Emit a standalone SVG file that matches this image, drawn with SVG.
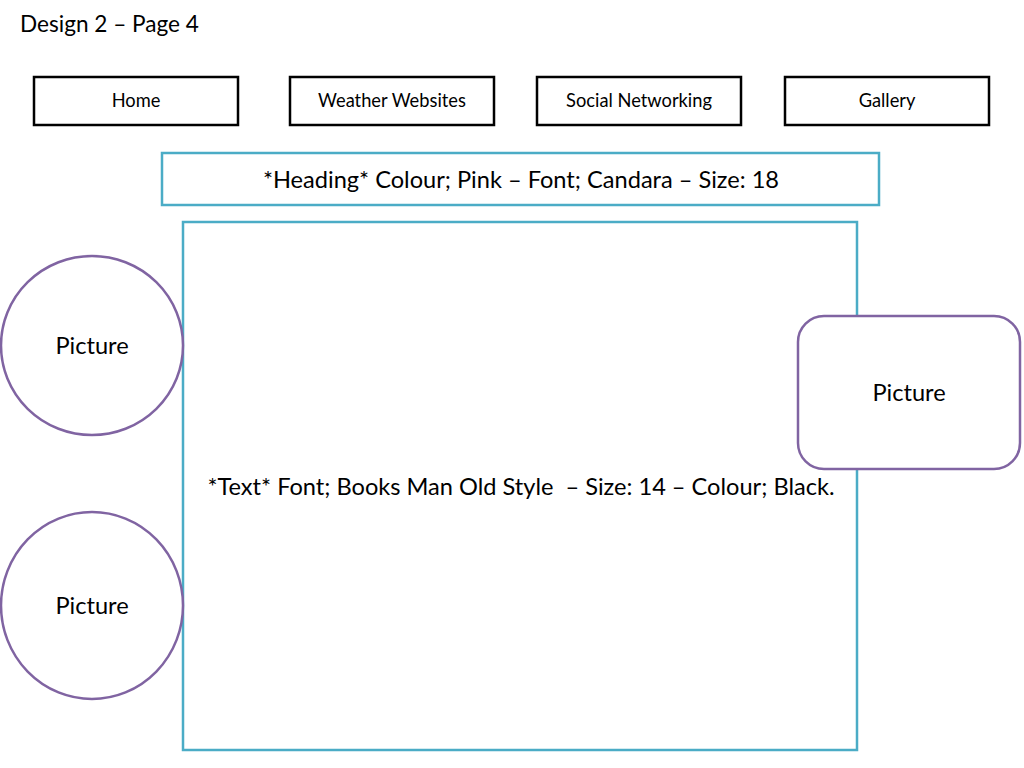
<svg xmlns="http://www.w3.org/2000/svg" width="1024" height="768" viewBox="0 0 1024 768">
<style>
text{font-family:Lato,"Open Sans","Liberation Sans",sans-serif;fill:#000;white-space:pre}
.nav rect{fill:#fff;stroke:#000;stroke-width:2.5}
.nav text{font-size:18.3px;text-anchor:middle}
.blue{fill:#fff;stroke:#4BACC6;stroke-width:2.5}
.purple{fill:#fff;stroke:#8064A2;stroke-width:2.5}
.big{font-size:23.6px;text-anchor:middle}
</style>
<rect width="1024" height="768" fill="#fff"/>
<text id="title" x="20" y="32" style="font-size:22.6px">Design 2 – Page 4</text>
<g id="nav-home" class="nav"><rect x="34" y="77" width="204" height="48"/><text x="136" y="107">Home</text></g>
<g id="nav-weather" class="nav"><rect x="290" y="77" width="204" height="48"/><text x="392" y="107">Weather Websites</text></g>
<g id="nav-social" class="nav"><rect x="537" y="77" width="204" height="48"/><text x="639" y="107">Social Networking</text></g>
<g id="nav-gallery" class="nav"><rect x="785" y="77" width="204" height="48"/><text x="887" y="107">Gallery</text></g>
<g id="heading"><rect class="blue" x="162" y="153" width="717" height="52"/><text class="big" x="521" y="188">*Heading* Colour; Pink – Font; Candara – Size: 18</text></g>
<g id="content"><rect class="blue" x="183" y="222" width="674" height="528"/><text class="big" x="521" y="495">*Text* Font; Books Man Old Style  – Size: 14 – Colour; Black.</text></g>
<g id="picture1"><ellipse class="purple" cx="92" cy="345.5" rx="91" ry="89.5"/><text class="big" x="92" y="354">Picture</text></g>
<g id="picture2"><ellipse class="purple" cx="92" cy="605.5" rx="91" ry="93.5"/><text class="big" x="92" y="614">Picture</text></g>
<g id="picture3"><rect class="purple" x="798" y="316" width="222" height="153" rx="26"/><text class="big" x="909" y="401">Picture</text></g>
<g id="connectors"/>
</svg>
